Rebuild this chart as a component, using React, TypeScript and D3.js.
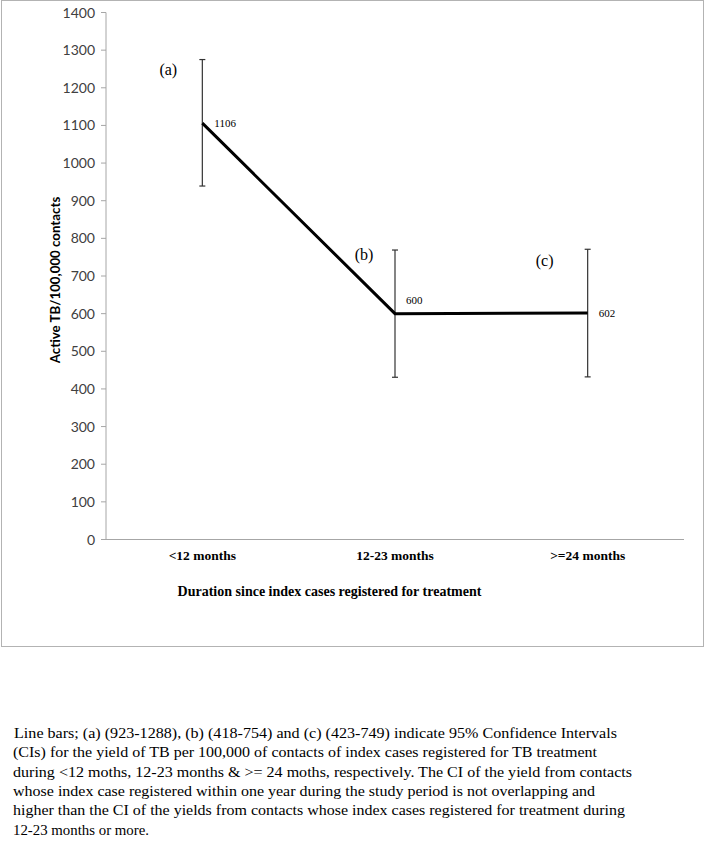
import React from "react";
import * as d3 from "d3";

const categories = ["<12 months", "12-23 months", ">=24 months"];
const values = [1106, 600, 602];
const ciLow = [939, 431, 432];
const ciHigh = [1275, 769, 771];
const pointLabels = ["1106", "600", "602"];
const groupLabels = ["(a)", "(b)", "(c)"];
const yTicks = [0, 100, 200, 300, 400, 500, 600, 700, 800, 900, 1000, 1100, 1200, 1300, 1400];
const yTitle = "Active TB/100,000 contacts";
const xTitle = "Duration since index cases registered for treatment";
const captionLines = [
  " Line bars; (a) (923-1288), (b) (418-754) and (c) (423-749) indicate 95% Confidence Intervals",
  "(CIs) for the yield of TB per 100,000 of contacts of index cases registered for TB treatment",
  "during <12 moths, 12-23 months & >= 24 moths, respectively. The CI of the yield from contacts",
  "whose index case registered within one year during the study period is not overlapping and",
  "higher than the CI of the yields from contacts whose index cases registered for treatment during",
  "12-23 months or more.",
];
const captionWidths = [603, 584, 619, 582, 612, 136];

// layout
const W = 705;
const H = 850;
const plotLeft = 106;
const plotRight = 684;
const plotTop = 12.5;
const plotBottom = 539.5;
const groupLabelOffsets = [
  { dx: -34, dy: 10 },
  { dx: -31, dy: 4 },
  { dx: -43, dy: 11 },
];

export default function App() {
  const x = d3.scaleBand<string>().domain(categories).range([plotLeft, plotRight]).padding(0);
  const y = d3.scaleLinear().domain([0, 1400]).range([plotBottom, plotTop]);
  const cx = (i: number) => (x(categories[i]) as number) + x.bandwidth() / 2;

  const line = d3
    .line<number>()
    .x((_, i) => cx(i))
    .y((d) => y(d));

  const axisColor = "#a6a6a6";
  const sans = "Lato, 'Open Sans', sans-serif";
  const serif = "'Liberation Serif', 'Times New Roman', serif";

  return (
    <svg
      width={W}
      height={H}
      style={{ position: "absolute", left: 0, top: 0, background: "#fff" }}
    >
      <rect x={1.5} y={0.5} width={702} height={646} fill="#fff" stroke="#b3b3b3" strokeWidth={1} />

      {/* y axis */}
      <line x1={plotLeft} x2={plotLeft} y1={plotTop} y2={plotBottom} stroke={axisColor} strokeWidth={1} />
      {yTicks.map((t) => (
        <g key={t}>
          <line x1={plotLeft - 5} x2={plotLeft} y1={y(t)} y2={y(t)} stroke={axisColor} strokeWidth={1} />
          <text
            x={plotLeft - 11}
            y={y(t)}
            dy="0.36em"
            textAnchor="end"
            fontFamily={sans}
            fontSize={14}
            fill="#404040"
          >
            {t}
          </text>
        </g>
      ))}
      {/* x axis */}
      <line x1={plotLeft} x2={plotRight} y1={plotBottom} y2={plotBottom} stroke={axisColor} strokeWidth={1} />
      {categories.map((c, i) => (
        <text
          key={c}
          x={cx(i)}
          y={555}
          dy="0.35em"
          textAnchor="middle"
          fontFamily={serif}
          fontWeight="bold"
          fontSize={13.5}
          fill="#000"
        >
          {c}
        </text>
      ))}

      {/* axis titles */}
      <text
        transform={`translate(55, 280) rotate(-90)`}
        textAnchor="middle"
        dy="0.35em"
        fontFamily={sans}
        fontWeight="bold"
        fontSize={13.3}
        fill="#000"
      >
        {yTitle}
      </text>
      <text
        x={329.5}
        y={591.5}
        dy="0.35em"
        textAnchor="middle"
        fontFamily={serif}
        fontWeight="bold"
        fontSize={14}
        fill="#000"
      >
        {xTitle}
      </text>

      {/* error bars */}
      {categories.map((c, i) => (
        <g key={"e" + c} stroke="#333" strokeWidth={1.2}>
          <line x1={cx(i)} x2={cx(i)} y1={y(ciLow[i])} y2={y(ciHigh[i])} />
          <line x1={cx(i) - 3} x2={cx(i) + 3} y1={y(ciLow[i])} y2={y(ciLow[i])} />
          <line x1={cx(i) - 3} x2={cx(i) + 3} y1={y(ciHigh[i])} y2={y(ciHigh[i])} />
        </g>
      ))}

      {/* line */}
      <path d={line(values) || ""} fill="none" stroke="#000" strokeWidth={3} strokeLinejoin="miter" />

      {/* value labels */}
      <text x={cx(0) + 12} y={y(values[0])} dy="0.35em" fontFamily={serif} fontSize={11} fill="#000">
        {pointLabels[0]}
      </text>
      <text x={cx(1) + 11} y={y(values[1]) - 13} dy="0.35em" fontFamily={serif} fontSize={11} fill="#000">
        {pointLabels[1]}
      </text>
      <text x={cx(2) + 11} y={y(values[2])} dy="0.35em" fontFamily={serif} fontSize={11} fill="#000">
        {pointLabels[2]}
      </text>

      {/* group labels */}
      {groupLabels.map((g, i) => (
        <text
          key={g}
          x={cx(i) + groupLabelOffsets[i].dx}
          y={y(ciHigh[i]) + groupLabelOffsets[i].dy}
          dy="0.35em"
          textAnchor="middle"
          fontFamily={serif}
          fontSize={16}
          fill="#000"
        >
          {g}
        </text>
      ))}

      {/* caption */}
      {captionLines.map((l, i) => (
        <text
          key={i}
          x={i === 0 ? 10 : 13}
          y={738 + i * 19.3}
          fontFamily={serif}
          fontSize={15.5}
          fill="#000"
          textLength={i === 0 ? captionWidths[i] + 4 : captionWidths[i]}
          lengthAdjust="spacingAndGlyphs"
          style={{ whiteSpace: "pre" }}
        >
          {l}
        </text>
      ))}
    </svg>
  );
}
